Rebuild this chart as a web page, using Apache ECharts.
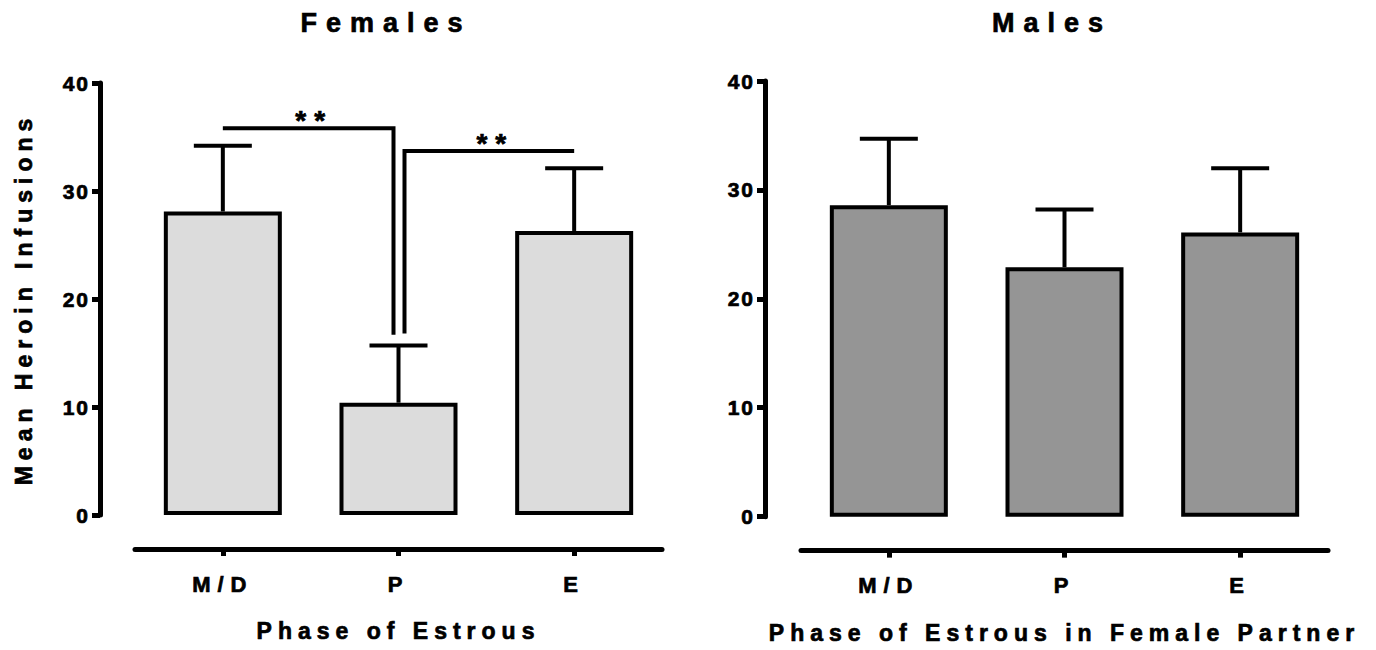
<!DOCTYPE html>
<html>
<head>
<meta charset="utf-8">
<script src="https://cdn.jsdelivr.net/npm/echarts@6/dist/echarts.min.js"></script>
<style>
  html, body { margin: 0; padding: 0; background: #fff; }
  #chart { width: 1376px; height: 650px; }
  /* the figure uses wide letter spacing; the svg renderer lets css do it */
  #chart text[style*="27px"] { letter-spacing: 9px; }
  #chart text[style*="23px"] { letter-spacing: 6px; }
  #chart text[style*="21px"] { letter-spacing: 2px; }
  #chart text[style*="22px"] { letter-spacing: 7px; }
  #chart text[style*="28px"] { letter-spacing: 8px; }
</style>
</head>
<body>
<div id="chart"></div>
<script>
const categories = ['M/D', 'P', 'E'];
const panelTitles = ['Females', 'Males'];
const xNames = ['Phase of Estrous', 'Phase of Estrous in Female Partner'];
const yName = 'Mean Heroin Infusions';

const femaleMeans = [28.1, 10.4, 26.3];
const femaleSem = [6.1, 5.3, 5.8];
const maleMeans = [28.6, 22.9, 26.1];
const maleSem = [6.1, 5.3, 5.9];

// [from category, to category, bar height, where the drop ends]
const brackets = [
  [0, 1, 35.8, 16.7],
  [2, 1, 33.7, 16.8]
];
const bracketLabels = ['**', '**'];

const FONT = 'Liberation Sans';
// a thin outline makes the bold face look as heavy as the original figure
const heavy = { color: '#000', fontFamily: FONT, fontWeight: 'bold', textBorderColor: '#000', textBorderWidth: 0.7 };

const chart = echarts.init(document.getElementById('chart'), null, { renderer: 'svg' });

function errData(means, sem) {
  return means.map((m, i) => [i, m, sem[i]]);
}

function renderError(params, api) {
  const x = api.value(0);
  const m = api.value(1);
  const e = api.value(2);
  const base = api.coord([x, m]);
  const top = api.coord([x, m + e]);
  const st = { stroke: '#000', lineWidth: 4 };
  return {
    type: 'group',
    children: [
      { type: 'line', shape: { x1: base[0], y1: base[1], x2: top[0], y2: top[1] }, style: st },
      { type: 'line', shape: { x1: top[0] - 29, y1: top[1], x2: top[0] + 29, y2: top[1] }, style: st }
    ]
  };
}

function renderBracket(params, api) {
  const from = api.value(0);
  const to = api.value(1);
  const a = api.coord([from, api.value(2)]);
  const b = api.coord([to, api.value(2)]);
  const d = api.coord([to, api.value(3)]);
  const off = from < to ? -5 : 6;
  const xe = b[0] + off;
  return {
    type: 'group',
    children: [
      {
        type: 'polyline',
        shape: { points: [[a[0], a[1]], [xe, a[1]], [xe, d[1]]] },
        style: { stroke: '#000', lineWidth: 4, fill: null, lineJoin: 'miter' }
      },
      {
        type: 'text',
        style: {
          text: bracketLabels[params.dataIndex],
          x: (a[0] + xe) / 2 + 6,
          y: a[1] - 8,
          align: 'center',
          verticalAlign: 'middle',
          font: 'bold 28px ' + FONT,
          fill: '#000',
          stroke: '#000',
          lineWidth: 0.7
        }
      }
    ]
  };
}

function xAxisFor(i, nameGap) {
  return {
    type: 'category',
    gridIndex: i,
    data: categories,
    offset: 34,
    axisLine: { onZero: false, lineStyle: { color: '#000', width: 5 } },
    axisTick: { show: true, alignWithLabel: true, length: 7, lineStyle: { color: '#000', width: 5 } },
    axisLabel: Object.assign({ fontSize: 22, margin: 24 }, heavy),
    name: xNames[i],
    nameLocation: 'middle',
    nameGap: nameGap,
    nameTextStyle: Object.assign({ fontSize: 23 }, heavy)
  };
}

function yAxisFor(i, offset) {
  return {
    type: 'value',
    gridIndex: i,
    min: 0,
    max: 40,
    interval: 10,
    offset: offset,
    splitLine: { show: false },
    axisLine: { show: true, lineStyle: { color: '#000', width: 5 } },
    axisTick: { show: true, length: 8, lineStyle: { color: '#000', width: 5 } },
    axisLabel: Object.assign({ fontSize: 21, margin: 10 }, heavy),
    name: i === 0 ? yName : '',
    nameLocation: 'middle',
    nameGap: 65,
    nameTextStyle: Object.assign({ fontSize: 23 }, heavy)
  };
}

const option = {
  animation: false,
  backgroundColor: '#fff',
  title: [
    { text: panelTitles[0], left: 386, top: 9, textAlign: 'center', padding: 0,
      textStyle: Object.assign({ fontSize: 27 }, heavy) },
    { text: panelTitles[1], left: 1052, top: 9, textAlign: 'center', padding: 0,
      textStyle: Object.assign({ fontSize: 27 }, heavy) }
  ],
  grid: [
    { left: 135, right: 714, top: 83, bottom: 135 },
    { left: 801, right: 48, top: 81, bottom: 133 }
  ],
  xAxis: [xAxisFor(0, 70), xAxisFor(1, 71)],
  yAxis: [yAxisFor(0, 35), yAxisFor(1, 36)],
  series: [
    {
      type: 'bar', xAxisIndex: 0, yAxisIndex: 0, data: femaleMeans, barWidth: 118,
      itemStyle: { color: '#dcdcdc', borderColor: '#000', borderWidth: 4 }
    },
    {
      type: 'custom', xAxisIndex: 0, yAxisIndex: 0, data: errData(femaleMeans, femaleSem),
      renderItem: renderError, encode: { x: 0, y: 1 }, z: 3
    },
    {
      type: 'custom', xAxisIndex: 0, yAxisIndex: 0, data: brackets,
      renderItem: renderBracket, encode: { x: 0, y: 2 }, z: 3
    },
    {
      type: 'bar', xAxisIndex: 1, yAxisIndex: 1, data: maleMeans, barWidth: 118,
      itemStyle: { color: '#959595', borderColor: '#000', borderWidth: 4 }
    },
    {
      type: 'custom', xAxisIndex: 1, yAxisIndex: 1, data: errData(maleMeans, maleSem),
      renderItem: renderError, encode: { x: 0, y: 1 }, z: 3
    }
  ]
};

chart.setOption(option);
</script>
</body>
</html>
